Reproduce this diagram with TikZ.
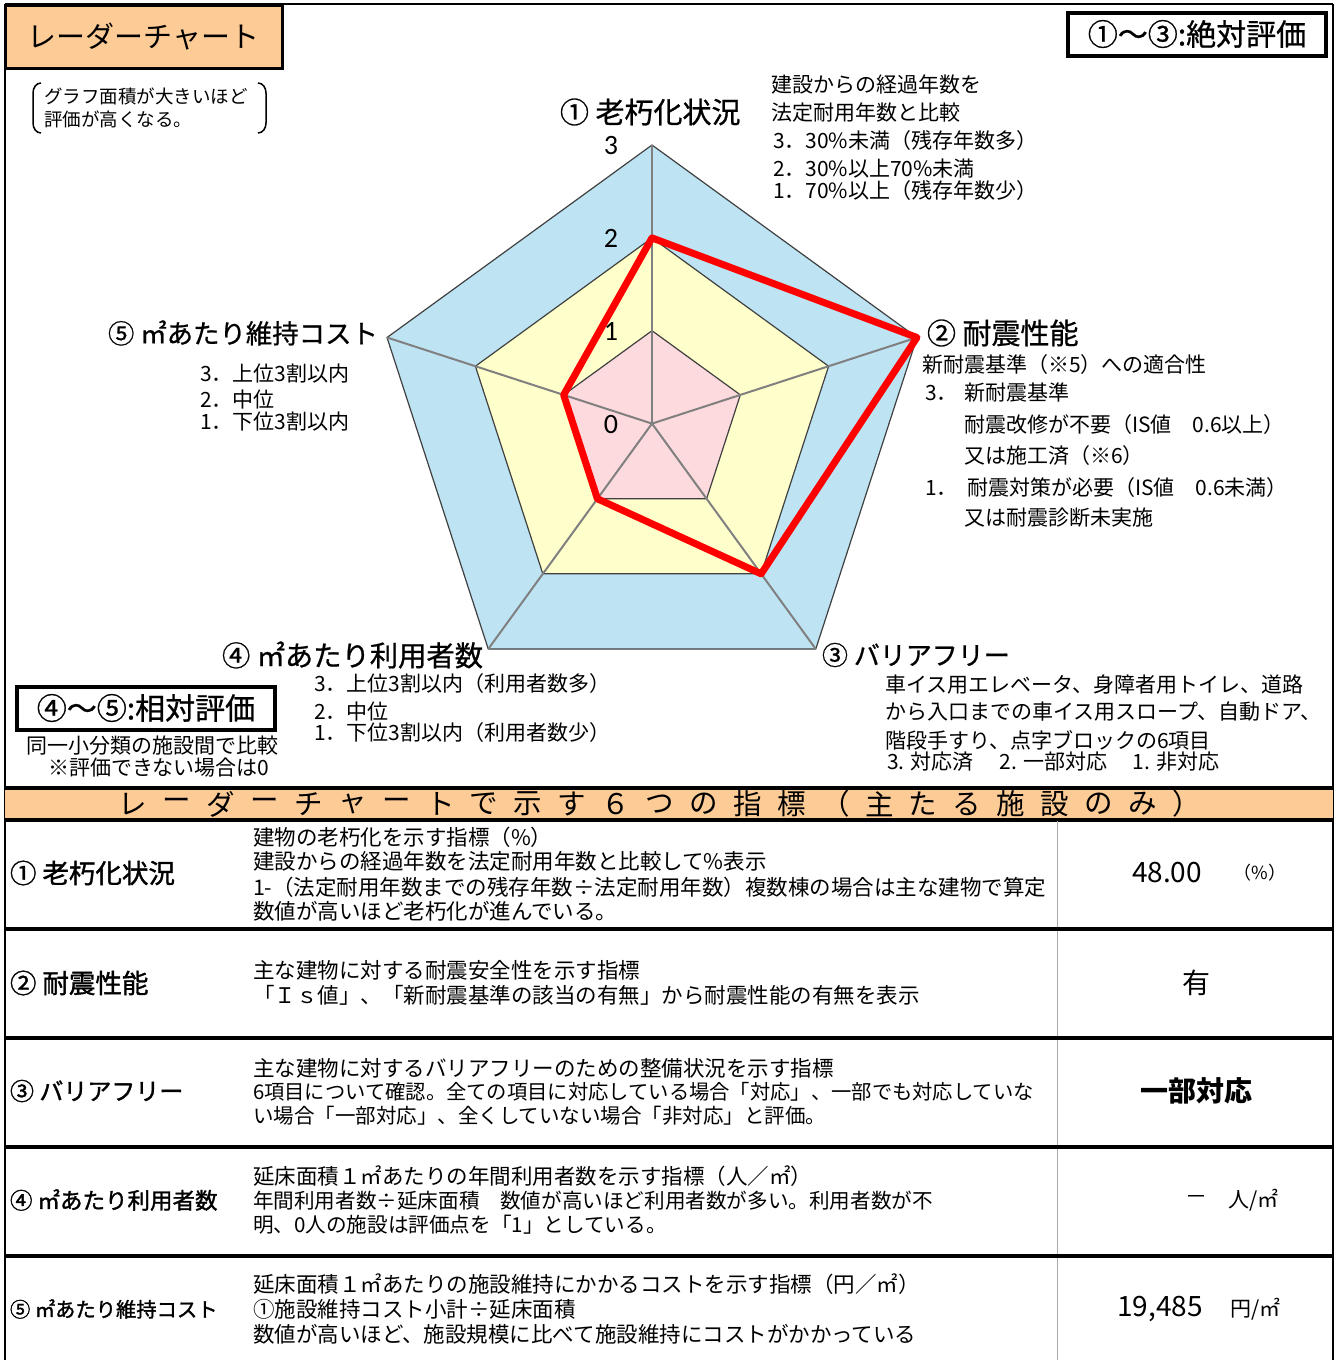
\documentclass[tikz,border=0pt]{standalone}
\usepackage{fontspec}
\setmainfont{Noto Sans CJK JP}
\newfontfamily\numfont{Carlito}
\newfontfamily\medfont[FakeBold=0.8]{Noto Sans CJK JP}
\newfontfamily\semifont[FakeBold=1.4]{Noto Sans CJK JP}
\usetikzlibrary{calc}
\definecolor{orng}{RGB}{253,203,150}
\definecolor{radblue}{RGB}{190,228,244}
\definecolor{radyel}{RGB}{255,255,204}
\definecolor{radpink}{RGB}{252,218,222}
\definecolor{gridc}{RGB}{64,64,64}
\definecolor{spokec}{RGB}{128,128,128}
\definecolor{divc}{RGB}{170,170,170}
\newcommand\pentfill[2]{\fill[#1] ($(C)+(-90:#2)$) -- ($(C)+(-18:#2)$) -- ($(C)+(54:#2)$) -- ($(C)+(126:#2)$) -- ($(C)+(198:#2)$) -- cycle;}
\newcommand\pentdraw[1]{\draw[gridline] ($(C)+(-90:#1)$) -- ($(C)+(-18:#1)$) -- ($(C)+(54:#1)$) -- ($(C)+(126:#1)$) -- ($(C)+(198:#1)$) -- cycle;}
\newcommand\fs[1]{\fontsize{#1}{#1}\selectfont}
\begin{document}
\begin{tikzpicture}[x=1pt,y=-1pt,
  every node/.style={inner sep=0pt,outer sep=0pt},
  gridline/.style={draw=gridc,line width=1.2pt,line join=miter},
  spoke/.style={draw=spokec,line width=2pt},
  frameline/.style={draw=black,line width=2.5pt},
  rowsep/.style={draw=black,line width=3.5pt},
  axlab/.style={anchor=west,font=\medfont\fs{29}},
  numlab/.style={font=\numfont\fs{28}},
  rdesc/.style={anchor=west,font=\fs{21}},
  tdesc/.style={anchor=west,font=\fs{21.5}},
  tlab/.style={anchor=west,font=\semifont\fs{26.5}},
  tval/.style={font=\fs{28}},
  tunit/.style={anchor=west,font=\fs{21}},
  bandch/.style={font=\fs{28.5}},
  evalbox/.style={draw=black,line width=4pt,minimum width=258pt,minimum height=43pt,font=\medfont\fs{30}}
]
\useasboundingbox (0,0) rectangle (1336,1360);
\fill[white] (0,0) rectangle (1336,1360);

% ---------- radar ----------
\coordinate (C) at (652,423.6);
\pentfill{radblue}{278.6}
\pentfill{radyel}{185.7}
\pentfill{radpink}{92.9}
\pentdraw{278.6}
\pentdraw{185.7}
\pentdraw{92.9}
\coordinate (a1) at ($(C)+(-90:278.6)$);
\coordinate (a2) at ($(C)+(-18:278.6)$);
\coordinate (a3) at ($(C)+(54:278.6)$);
\coordinate (a4) at ($(C)+(126:278.6)$);
\coordinate (a5) at ($(C)+(198:278.6)$);
\foreach \p in {a1,a2,a3,a4,a5} \draw[spoke] (C) -- (\p);
\coordinate (r1) at ($(C)+(-90:185.7)$);
\coordinate (r2) at ($(C)+(-18:278.6)$);
\coordinate (r3) at ($(C)+(54:185.7)$);
\coordinate (r4) at ($(C)+(126:92.9)$);
\coordinate (r5) at ($(C)+(198:92.9)$);
\draw[red,line width=7pt,line join=round] (r1) -- (r2) -- (r3) -- (r4) -- (r5) -- cycle;

\node[numlab] (n3) at (611,146) {3};
\node[numlab] (n2) at (611,238) {2};
\node[numlab] (n1) at (611,331) {1};
\node[numlab] (n0) at (611,425) {0};

% axis labels
\node[axlab] (L1) at (560,112) {① 老朽化状況};
\node[axlab] (L2) at (927,333) {② 耐震性能};
\node[axlab,font=\medfont\fs{26}] (L3) at (822,655) {③ バリアフリー};
\node[axlab,font=\medfont\fs{28.3}] (L4) at (222,655) {④ ㎡あたり利用者数};
\node[axlab,font=\medfont\fs{26.4}] (L5) at (108,333) {⑤ ㎡あたり維持コスト};

% descriptions (1)
\node[rdesc] (d1a) at (771,85) {建設からの経過年数を};
\node[rdesc] (d1b) at (771,113) {法定耐用年数と比較};
\node[rdesc] (d1c) at (773,141) {3．30\%未満（残存年数多）};
\node[rdesc] (d1d) at (773,169) {2．30\%以上70\%未満};
\node[rdesc] (d1e) at (773,191) {1．70\%以上（残存年数少）};
% (2)
\node[rdesc] (d2a) at (922,365) {新耐震基準（※5）への適合性};
\node[rdesc] (d2b) at (925,393) {3．};
\node[rdesc] (d2c) at (964,393) {新耐震基準};
\node[rdesc] (d2d) at (964,425) {耐震改修が不要（IS値　0.6以上）};
\node[rdesc] (d2e) at (964,456) {又は施工済（※6）};
\node[rdesc] (d2f) at (925,488) {1．};
\node[rdesc] (d2g) at (967,488) {耐震対策が必要（IS値　0.6未満）};
\node[rdesc] (d2h) at (964,518) {又は耐震診断未実施};
% (3)
\node[rdesc] (d3a) at (885,685) {車イス用エレベータ、身障者用トイレ、道路};
\node[rdesc] (d3b) at (885,712) {から入口までの車イス用スロープ、自動ドア、};
\node[rdesc] (d3c) at (885,740) {階段手すり、点字ブロックの6項目};
\node[rdesc] (d3d) at (887,762) {3. 対応済　 2. 一部対応　 1. 非対応};
% (4)
\node[rdesc] (d4a) at (314,684) {3．上位3割以内（利用者数多）};
\node[rdesc] (d4b) at (314,711) {2．中位};
\node[rdesc] (d4c) at (314,733) {1．下位3割以内（利用者数少）};
% (5)
\node[rdesc] (d5a) at (200,374) {3．上位3割以内};
\node[rdesc] (d5b) at (200,400) {2．中位};
\node[rdesc] (d5c) at (200,422) {1．下位3割以内};

% ---------- frame, title, notes ----------
\draw[frameline] (5,4) -- (1333,4);
\draw[frameline] (5,4) -- (5,1360);
\draw[frameline] (1333,4) -- (1333,1360);
\node[draw=black,line width=3pt,fill=orng,minimum width=277pt,minimum height=63pt,anchor=north west,
      font=\fs{29}] (title) at (5,5) {レーダーチャート};

\node[anchor=west,font=\fs{18.5}] (note1) at (44,96) {グラフ面積が大きいほど};
\node[anchor=west,font=\fs{18.5}] (note2) at (44,119) {評価が高くなる。};
\draw[line width=1.5pt] (41,83) to[out=180,in=90] (33,93) -- (33,123) to[out=-90,in=180] (41,133);
\draw[line width=1.5pt] (258,83) to[out=0,in=90] (266,93) -- (266,123) to[out=-90,in=0] (258,133);

\node[evalbox] (abs) at (1197,34) {①～③:絶対評価};
\node[evalbox] (rel) at (146,708) {④～⑤:相対評価};
\node[anchor=west,font=\fs{21}] (rel1) at (27,746) {同一小分類の施設間で比較};
\node[anchor=west,font=\fs{21}] (rel2) at (48,768) {※評価できない場合は0};

% ---------- band ----------
\fill[orng] (5,788) rectangle (1333,820);
\draw[rowsep] (5,788) -- (1333,788);
\draw[rowsep] (5,820) -- (1333,820);
\foreach \ch [count=\i from 0] in {レ,ー,ダ,ー,チ,ャ,ー,ト,で,示,す,６,つ,の,指,標,（,主,た,る,施,設,の,み,）}
  \node[bandch] (b\i) at ({133+43.9*\i},804) {\ch};

% ---------- table ----------
\draw[draw=divc,line width=1pt] (1057,821) -- (1057,1360);
\foreach \yy in {929,1038,1147,1256} \draw[rowsep] (5,\yy) -- (1333,\yy);

\node[tlab] (t1) at (10,873) {① 老朽化状況};
\node[tdesc] (t1a) at (253,837) {建物の老朽化を示す指標（\%）};
\node[tdesc] (t1b) at (253,861) {建設からの経過年数を法定耐用年数と比較して\%表示};
\node[tdesc] (t1c) at (253,887) {1-（法定耐用年数までの残存年数÷法定耐用年数）複数棟の場合は主な建物で算定};
\node[tdesc] (t1d) at (253,911) {数値が高いほど老朽化が進んでいる。};
\node[tval] (v1) at (1167,873) {48.00};
\node[font=\fs{18}] (u1) at (1260,873) {（\%）};

\node[tlab] (t2) at (10,983) {② 耐震性能};
\node[tdesc] (t2a) at (253,970) {主な建物に対する耐震安全性を示す指標};
\node[tdesc] (t2b) at (253,995) {「Ｉｓ値」、「新耐震基準の該当の有無」から耐震性能の有無を表示};
\node[tval] (v2) at (1196,983) {有};

\node[tlab,font=\semifont\fs{24}] (t3) at (10,1091) {③ バリアフリー};
\node[tdesc] (t3a) at (253,1068) {主な建物に対するバリアフリーのための整備状況を示す指標};
\node[tdesc,font=\fs{20.3}] (t3b) at (253,1092) {6項目について確認。全ての項目に対応している場合「対応」、一部でも対応していな};
\node[tdesc,font=\fs{20.5}] (t3c) at (253,1116) {い場合「一部対応」、全くしていない場合「非対応」と評価。};
\node[tval,font=\bfseries\fs{28}] (v3) at (1196,1091) {一部対応};

\node[tlab,font=\semifont\fs{22.5}] (t4) at (10,1200) {④ ㎡あたり利用者数};
\node[tdesc] (t4a) at (253,1176) {延床面積１㎡あたりの年間利用者数を示す指標（人／㎡）};
\node[tdesc,font=\fs{20.6}] (t4b) at (253,1201) {年間利用者数÷延床面積　数値が高いほど利用者数が多い。利用者数が不};
\node[tdesc,font=\fs{20.6}] (t4c) at (253,1225) {明、0人の施設は評価点を「1」としている。};
\node[font=\fs{22}] (v4) at (1196,1200) {－};
\node[tunit] (u4) at (1228,1200) {人/㎡};

\node[tlab,font=\semifont\fs{20.3}] (t5) at (10,1309) {⑤ ㎡あたり維持コスト};
\node[tdesc] (t5a) at (253,1284) {延床面積１㎡あたりの施設維持にかかるコストを示す指標（円／㎡）};
\node[tdesc] (t5b) at (253,1309) {①施設維持コスト小計÷延床面積};
\node[tdesc] (t5c) at (253,1334) {数値が高いほど、施設規模に比べて施設維持にコストがかかっている};
\node[tval] (v5) at (1160,1309) {19,485};
\node[tunit] (u5) at (1230,1309) {円/㎡};
\end{tikzpicture}
\end{document}
